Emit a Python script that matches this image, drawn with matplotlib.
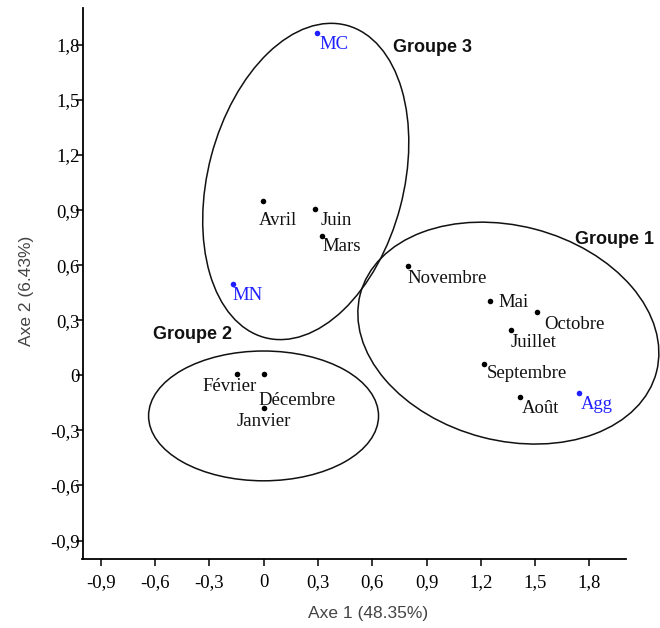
import matplotlib.pyplot as plt
from matplotlib.patches import Ellipse

# ----- données (coordonnées factorielles) -----
noms = ['MC', 'Avril', 'Juin', 'Mars', 'MN',
        'Novembre', 'Mai', 'Octobre', 'Juillet', 'Septembre', 'Août', 'Agg',
        'Février', 'Décembre', 'Janvier']
axe1 = [0.295, -0.005, 0.286, 0.323, -0.171,
        0.798, 1.249, 1.510, 1.367, 1.215, 1.418, 1.740,
        -0.147, 0.0, 0.0]
axe2 = [1.867, 0.947, 0.908, 0.757, 0.498,
        0.598, 0.404, 0.344, 0.246, 0.063, -0.116, -0.095,
        0.005, 0.005, -0.176]
variables = ['MC', 'MN', 'Agg']  # points en bleu

# ellipses des groupes : centre, largeur, hauteur, angle
groupes = ['Groupe 1', 'Groupe 2', 'Groupe 3']
centres = [(1.352, 0.23), (0.0, -0.221), (0.233, 1.056)]
largeurs = [1.69, 1.27, 1.08]
hauteurs = [1.17, 0.707, 1.76]
angles = [-14.4, 0, -15]
pos_titres = [(1.722, 0.741), (-0.609, 0.224), (0.717, 1.784)]

graduations = [-0.9, -0.6, -0.3, 0, 0.3, 0.6, 0.9, 1.2, 1.5, 1.8]
etiquettes = ['-0,9', '-0,6', '-0,3', '0', '0,3', '0,6', '0,9', '1,2', '1,5', '1,8']

# décalage des étiquettes (pixels) et alignement
decalages = {
  'MC': (2, -12, 'left'), 'Avril': (-4, -19, 'left'), 'Juin': (5, -12, 'left'),
  'Mars': (0, -10, 'left'), 'MN': (0, -12, 'left'), 'Novembre': (-1, -13, 'left'),
  'Mai': (9, -1, 'left'), 'Octobre': (7, -12, 'left'), 'Juillet': (0, -12, 'left'),
  'Septembre': (3, -10, 'left'), 'Août': (2, -12, 'left'), 'Agg': (2, -12, 'left'),
  'Février': (20, -12, 'right'), 'Décembre': (-5, -26, 'left'), 'Janvier': (0, -14, 'center'),
}

fig = plt.figure(figsize=(6.6, 6.28), dpi=100)
ax = fig.add_axes([0.125, 0.110, 0.823, 0.877])

serif = ['Liberation Serif', 'DejaVu Serif']
sans = ['Liberation Sans', 'DejaVu Sans']
bleu = '#1f1fff'

for n, x, y in zip(noms, axe1, axe2):
  c = bleu if n in variables else 'black'
  ax.plot(x, y, 'o', color=c, markersize=4, markeredgewidth=0)
  dx, dy, ha = decalages[n]
  ax.annotate(n, (x, y), xytext=(dx, dy), textcoords='offset pixels',
              ha=ha, va='center', fontsize=13.5, family=serif,
              color=bleu if n in variables else '#111111')

for g, c, w, h, a, p in zip(groupes, centres, largeurs, hauteurs, angles, pos_titres):
  ax.add_patch(Ellipse(c, w, h, angle=a, fill=False, edgecolor='#111111',
                       linewidth=1.1, clip_on=False))
  ax.text(p[0], p[1], g, fontsize=13, fontweight='bold', family=sans,
          ha='left', va='center', color='#111111', clip_on=False)

ax.set_xlim(-1.0, 2.0)
ax.set_ylim(-1.0, 2.0)
ax.set_xticks(graduations)
ax.set_xticklabels(etiquettes, family=serif, fontsize=13.5)
ax.set_yticks(graduations)
ax.set_yticklabels(etiquettes, family=serif, fontsize=13.5)
ax.tick_params(axis='x', direction='out', length=5, width=1.1, pad=6)
ax.tick_params(axis='y', direction='out', length=5, width=1.1, pad=-3)

ax.spines['top'].set_visible(False)
ax.spines['right'].set_visible(False)
ax.spines['left'].set_linewidth(1.3)
ax.spines['bottom'].set_linewidth(1.3)

ax.set_xlabel('Axe 1 (48.35%)', family=sans, fontsize=12.5, color='#444444')
ax.set_ylabel('Axe 2 (6.43%)', family=sans, fontsize=12.5, color='#444444')
ax.xaxis.set_label_coords(0.525, -0.086)
ax.yaxis.set_label_coords(-0.089, 0.486)

fig.savefig('out.png', dpi=100)
